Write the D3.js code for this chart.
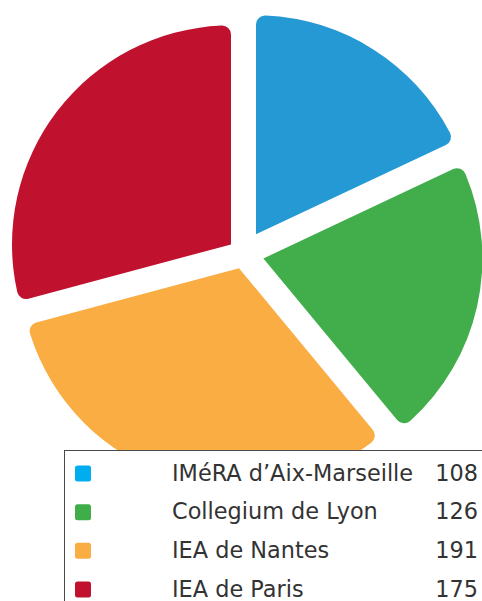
<!DOCTYPE html>
<html>
<head>
<meta charset="utf-8">
<script src="https://cdn.jsdelivr.net/npm/d3@7"></script>
<style>
  html, body { margin: 0; padding: 0; background: #fff; }
  svg { display: block; }
</style>
</head>
<body>
<div id="chart"></div>
<script>
// data
const labels = ["IMéRA d\u2019Aix-Marseille", "Collegium de Lyon", "IEA de Nantes", "IEA de Paris"];
const values = [108, 126, 191, 175];
const sliceColors = ["#2599d4", "#41ae4b", "#f9ad43", "#c0122f"];
const swatchColors = ["#00aeef", "#3fae49", "#f9ad43", "#c0122f"];

const width = 482, height = 601;
const cx = 243.5, cy = 254;   // pie centre
const radius = 219;
const gap = 25;               // width of the white gaps between slices

const svg = d3.select('#chart').append('svg')
    .attr('width', width)
    .attr('height', height);

const pie = d3.pie().sort(null).value(d => d);
const arcs = pie(values);

const arc = d3.arc()
    .innerRadius(0)
    .outerRadius(radius)
    .cornerRadius(9);

// each slice is pushed out along its bisector so the gaps stay parallel
svg.append('g')
    .attr('transform', `translate(${cx},${cy})`)
    .selectAll('path')
    .data(arcs)
    .enter()
    .append('path')
    .attr('d', arc)
    .attr('fill', (d, i) => sliceColors[i])
    .attr('transform', d => {
        const half = (d.endAngle - d.startAngle) / 2;
        const mid = d.startAngle + half;
        const h = (gap / 2) / Math.sin(half);
        return `translate(${h * Math.sin(mid)},${-h * Math.cos(mid)})`;
    });

// legend
const legend = svg.append('g');
legend.append('rect')
    .attr('x', 64.5)
    .attr('y', 450.5)
    .attr('width', 500)
    .attr('height', 200)
    .attr('fill', '#fff')
    .attr('stroke', '#4a4a4a')
    .attr('stroke-width', 1);

const rowY = d3.scalePoint().domain(d3.range(labels.length)).range([473.5, 589.5]);

const rows = legend.selectAll('g.row')
    .data(labels)
    .enter()
    .append('g')
    .attr('class', 'row')
    .attr('transform', (d, i) => `translate(0,${rowY(i)})`);

rows.append('rect')
    .attr('x', 75)
    .attr('y', -8)
    .attr('width', 16)
    .attr('height', 16)
    .attr('rx', 2.5)
    .attr('fill', (d, i) => swatchColors[i]);

rows.append('text')
    .attr('x', 172)
    .attr('y', 7)
    .attr('font-family', 'DejaVu Sans')
    .attr('font-size', 22.4)
    .attr('fill', '#333')
    .text(d => d);

rows.append('text')
    .attr('x', 478)
    .attr('y', 7)
    .attr('text-anchor', 'end')
    .attr('font-family', 'DejaVu Sans')
    .attr('font-size', 22.4)
    .attr('fill', '#333')
    .text((d, i) => values[i]);
</script>
</body>
</html>
